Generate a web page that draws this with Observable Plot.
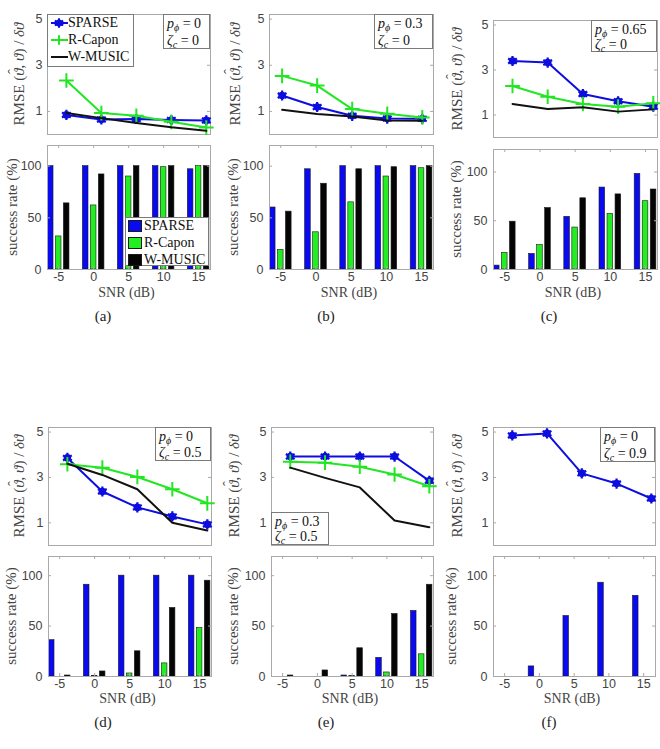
<!DOCTYPE html>
<html><head><meta charset="utf-8">
<script src="https://cdn.jsdelivr.net/npm/d3@7"></script>
<script src="https://cdn.jsdelivr.net/npm/@observablehq/plot@0.6"></script>
<style>
body{margin:0;background:#fff;}
#fig{position:relative;width:660px;height:749px;overflow:hidden;font-family:"Liberation Serif","DejaVu Serif",serif;color:#222;}
.lab{position:absolute;white-space:nowrap;font-size:14px;transform:translate(-50%,-50%);color:#444;}
.ylab{position:absolute;white-space:nowrap;font-size:15px;transform:translate(-50%,-50%) rotate(-90deg);color:#444;}
.box{position:absolute;box-sizing:border-box;border:1px solid #7a7a7a;background:#fff;font-size:14px;color:#111;}
.row{position:absolute;white-space:nowrap;transform:translateY(-50%);}
sub{font-size:10px;vertical-align:-3px;line-height:0;}
.hat{position:relative;display:inline-block;}
.hatc{position:absolute;left:0.12em;top:-0.42em;font-style:normal;}
</style></head><body><div id="fig"></div>
<script>
// ---------------- data ----------------
const snr = [-5, 0, 5, 10, 15];
const methods = ["SPARSE", "R-Capon", "W-MUSIC"];
const panelLetters = ["(a)", "(b)", "(c)", "(d)", "(e)", "(f)"];
const pPhi = ["0", "0.3", "0.65", "0", "0.3", "0"];
const zetaC = ["0", "0", "0", "0.5", "0.5", "0.9"];
const yTicksTop = [1, 3, 5];
const yTicksBottom = [0, 50, 100];
const xTicks = [-5, 0, 5, 10, 15];

// RMSE (top plots)
const rmseA_sparse = [0.85, 0.65, 0.67, 0.63, 0.61];
const rmseA_capon  = [2.34, 0.93, 0.81, 0.55, 0.30];
const rmseA_music  = [0.93, 0.71, 0.50, 0.31, 0.16];
const rmseB_sparse = [1.69, 1.19, 0.81, 0.69, 0.68];
const rmseB_capon  = [2.54, 2.12, 1.10, 0.90, 0.74];
const rmseB_music  = [1.07, 0.89, 0.78, 0.61, 0.60];
const rmseC_sparse = [3.40, 3.33, 1.93, 1.61, 1.37];
const rmseC_capon  = [2.29, 1.81, 1.49, 1.37, 1.52];
const rmseC_music  = [1.49, 1.27, 1.34, 1.15, 1.25];
const rmseD_sparse = [3.86, 2.38, 1.68, 1.28, 0.93];
const rmseD_capon  = [3.58, 3.43, 3.02, 2.48, 1.86];
const rmseD_music  = [3.60, 3.11, 2.48, 1.00, 0.66];
const rmseE_sparse = [3.92, 3.92, 3.92, 3.92, 2.85];
const rmseE_capon  = [3.69, 3.65, 3.47, 3.13, 2.61];
const rmseE_music  = [3.43, 2.98, 2.56, 1.10, 0.80];
const rmseF_sparse = [4.85, 4.94, 3.18, 2.73, 2.07];

// success rate (%) (bottom plots)
const rateA_sparse = [100, 100, 100, 100, 97];
const rateA_capon  = [32, 62, 90, 99, 100];
const rateA_music  = [64, 92, 100, 100, 100];
const rateB_sparse = [60, 97, 100, 100, 100];
const rateB_capon  = [19, 36, 65, 90, 98];
const rateB_music  = [56, 83, 97, 99, 100];
const rateC_sparse = [4, 16, 54, 84, 98];
const rateC_capon  = [17, 25, 43, 57, 70];
const rateC_music  = [49, 63, 73, 77, 82];
const rateD_sparse = [36, 91, 100, 100, 100];
const rateD_capon  = [0, 0.5, 3, 13, 48];
const rateD_music  = [1, 5, 25, 68, 95];
const rateE_sparse = [0, 0, 1, 18.5, 65];
const rateE_capon  = [0, 0, 0.5, 4, 22];
const rateE_music  = [1, 6, 28, 62, 91];
const rateF_sparse = [0, 10, 60, 93, 80];
const rateF_capon  = [0, 0, 0, 0, 0];
const rateF_music  = [0, 0, 0, 0, 0];

// ---------------- layout ----------------
const SANS = "'Liberation Sans', Arial, Helvetica, sans-serif";
const FRAME = "#a9a9a9";
const LINE = {"SPARSE": "#0d0de0", "R-Capon": "#22e622", "W-MUSIC": "#111111"};
const BAR = {"SPARSE": "#0a0af2", "R-Capon": "#22ee22", "W-MUSIC": "#050505"};
const barOff = {"SPARSE": -1.14, "R-Capon": 0, "W-MUSIC": 1.14};
const barW = 0.8;
const topX = [-7.7, 15.6];
const topXb = [-6.8, 16.6];
const botX = [-6.6, 16.7];

const panels = [
  {L: 47, R: 210, tT: 14, tB: 134, bT: 145, bB: 269, bMax: 120, ry: 19, sy: 12, lx: 103, rowSnr: 293, rowLet: 316, tx: topX,
   rmse: {"SPARSE": rmseA_sparse, "R-Capon": rmseA_capon, "W-MUSIC": rmseA_music},
   rate: {"SPARSE": rateA_sparse, "R-Capon": rateA_capon, "W-MUSIC": rateA_music},
   box: [163, 14, 210, 49]},
  {L: 269, R: 433, tT: 14, tB: 134, bT: 145, bB: 269, bMax: 120, ry: 235, sy: 233, lx: 326, rowSnr: 293, rowLet: 316, tx: topXb,
   rmse: {"SPARSE": rmseB_sparse, "R-Capon": rmseB_capon, "W-MUSIC": rmseB_music},
   rate: {"SPARSE": rateB_sparse, "R-Capon": rateB_capon, "W-MUSIC": rateB_music},
   box: [374, 14, 433, 49]},
  {L: 493, R: 657, tT: 20, tB: 137, bT: 149, bB: 269, bMax: 123, ry: 457, sy: 456, lx: 549, rowSnr: 293, rowLet: 316, tx: topX,
   rmse: {"SPARSE": rmseC_sparse, "R-Capon": rmseC_capon, "W-MUSIC": rmseC_music},
   rate: {"SPARSE": rateC_sparse, "R-Capon": rateC_capon, "W-MUSIC": rateC_music},
   box: [591, 20, 657, 52]},
  {L: 48, R: 211, tT: 427, tB: 545, bT: 556, bB: 676, bMax: 119, ry: 19, sy: 11, lx: 103, rowSnr: 699, rowLet: 722, tx: topX,
   rmse: {"SPARSE": rmseD_sparse, "R-Capon": rmseD_capon, "W-MUSIC": rmseD_music},
   rate: {"SPARSE": rateD_sparse, "R-Capon": rateD_capon, "W-MUSIC": rateD_music},
   box: [155, 427, 211, 461]},
  {L: 271, R: 433, tT: 427, tB: 545, bT: 556, bB: 676, bMax: 119, ry: 234, sy: 233, lx: 326, rowSnr: 699, rowLet: 722, tx: topX,
   rmse: {"SPARSE": rmseE_sparse, "R-Capon": rmseE_capon, "W-MUSIC": rmseE_music},
   rate: {"SPARSE": rateE_sparse, "R-Capon": rateE_capon, "W-MUSIC": rateE_music},
   box: [271, 512, 329, 545]},
  {L: 493, R: 655, tT: 427, tB: 545, bT: 556, bB: 676, bMax: 119, ry: 457, sy: 451, lx: 549, rowSnr: 699, rowLet: 722, tx: topX,
   rmse: {"SPARSE": rmseF_sparse},
   rate: {"SPARSE": rateF_sparse, "R-Capon": rateF_capon, "W-MUSIC": rateF_music},
   box: [600, 427, 655, 462]},
];

const fig = document.getElementById("fig");
const M = {l: 40, r: 8, t: 8, b: 24};
const baseStyle = {background: "transparent", overflow: "visible", color: "#444", fontSize: "12.5px", fontFamily: SANS};

function place(svg, left, top) {
  svg.style.position = "absolute";
  svg.style.left = left + "px";
  svg.style.top = top + "px";
  fig.appendChild(svg);
}

function topPlot(p) {
  const w = p.R - p.L, h = p.tB - p.tT;
  const marks = [
    Plot.tickY(yTicksTop, {y: d => d, insetRight: w - 3, stroke: FRAME}),
    Plot.tickY(yTicksTop, {y: d => d, insetLeft: w - 3, stroke: FRAME}),
    Plot.frame({stroke: FRAME}),
    Plot.axisY(yTicksTop, {tickSize: 0, tickPadding: 5, tickFormat: d => String(d), label: null})
  ];
  for (const k of methods) {
    if (!p.rmse[k]) continue;
    const rows = snr.map((s, i) => ({snr: s, v: p.rmse[k][i]}));
    marks.push(Plot.line(rows, {x: "snr", y: "v", stroke: LINE[k], strokeWidth: 2}));
    if (k === "SPARSE") {
      marks.push(Plot.dot(rows, {x: "snr", y: "v", r: 3.8, fill: LINE[k]}));
      marks.push(Plot.dot(rows, {x: "snr", y: "v", symbol: "asterisk", r: 4.8, stroke: LINE[k], strokeWidth: 2.2}));
    }
    if (k === "R-Capon") {
      marks.push(Plot.dot(rows, {x: "snr", y: "v", symbol: "plus", r: 4.8, stroke: LINE[k], strokeWidth: 2}));
    }
  }
  const svg = Plot.plot({
    width: w + M.l + M.r, height: h + M.t + 8,
    marginLeft: M.l, marginRight: M.r, marginTop: M.t, marginBottom: 8,
    x: {domain: p.tx, axis: null}, y: {domain: [0, 5.2]},
    style: baseStyle, marks
  });
  place(svg, p.L - M.l, p.tT - M.t);
}

function bottomPlot(p) {
  const w = p.R - p.L, h = p.bB - p.bT;
  const marks = [];
  for (const k of methods) {
    const rows = snr.map((s, i) => ({snr: s, v: p.rate[k][i]})).filter(d => d.v > 0);
    marks.push(Plot.rect(rows, {
      x1: d => d.snr + barOff[k] - barW / 2, x2: d => d.snr + barOff[k] + barW / 2,
      y1: d => 0, y2: "v", fill: BAR[k], stroke: "#1a1a1a", strokeWidth: 0.6
    }));
  }
  marks.push(
    Plot.tickX(xTicks, {x: d => d, insetTop: h - 3, stroke: FRAME}),
    Plot.tickX(xTicks, {x: d => d, insetBottom: h - 3, stroke: FRAME}),
    Plot.tickY(yTicksBottom, {y: d => d, insetRight: w - 3, stroke: FRAME}),
    Plot.tickY(yTicksBottom, {y: d => d, insetLeft: w - 3, stroke: FRAME}),
    Plot.frame({stroke: FRAME}),
    Plot.axisY(yTicksBottom, {tickSize: 0, tickPadding: 6, tickFormat: d => String(d), label: null}),
    Plot.axisX(xTicks, {tickSize: 0, tickPadding: 3, tickFormat: d => String(d), label: null})
  );
  const svg = Plot.plot({
    width: w + M.l + M.r, height: h + M.t + M.b,
    marginLeft: M.l, marginRight: M.r, marginTop: M.t, marginBottom: M.b,
    x: {domain: botX}, y: {domain: [0, p.bMax]},
    style: baseStyle, marks
  });
  place(svg, p.L - M.l, p.bT - M.t);
}

function addDiv(cls, html, css) {
  const d = document.createElement("div");
  d.className = cls;
  d.innerHTML = html;
  Object.assign(d.style, css);
  fig.appendChild(d);
  return d;
}

const rmseLabel = 'RMSE (<span class="hat"><i>ϑ</i><span class="hatc">ˆ</span></span>, <i>ϑ</i>) / <i>δϑ</i>';
panels.forEach((p, i) => {
  topPlot(p);
  bottomPlot(p);
  addDiv("ylab", rmseLabel, {left: p.ry + "px", top: (p.tT + p.tB) / 2 + "px"});
  addDiv("ylab", "success rate (%)", {left: p.sy + "px", top: (p.bT + p.bB) / 2 + "px"});
  addDiv("lab", "SNR (dB)", {left: ((p.L + p.R) / 2 - 2) + "px", top: p.rowSnr + "px"});
  addDiv("lab", panelLetters[i], {left: p.lx + "px", top: p.rowLet + "px", color: "#222", fontSize: "15px"});
  const [x1, y1, x2, y2] = p.box;
  const bx = addDiv("box", "", {left: x1 + "px", top: y1 + "px", width: (x2 - x1) + "px", height: (y2 - y1) + "px"});
  bx.innerHTML =
    `<div class="row" style="left:3px;top:${(y2 - y1) * 0.27}px"><i>p</i><sub><i>ϕ</i></sub> = ${pPhi[i]}</div>` +
    `<div class="row" style="left:3px;top:${(y2 - y1) * 0.74}px"><i>ζ</i><sub><i>c</i></sub> = ${zetaC[i]}</div>`;
});

// legend for lines (panel a top)
const lg1 = addDiv("box", "", {left: "47px", top: "14px", width: "87px", height: "53px"});
const lineRows = [8, 25, 42];
lg1.innerHTML = methods.map((k, j) => {
  let marker = "";
  if (k === "SPARSE") marker = `<circle cx="9" cy="6" r="3.6" fill="${LINE[k]}"/><path d="M9,1.2V10.8M4.8,3.6L13.2,8.4M4.8,8.4L13.2,3.6" stroke="${LINE[k]}" stroke-width="2"/>`;
  if (k === "R-Capon") marker = `<path d="M9,1.2V10.8M4.2,6H13.8" stroke="${LINE[k]}" stroke-width="2"/>`;
  return `<svg style="position:absolute;left:2px;top:${lineRows[j] - 6}px" width="19" height="12"><line x1="1" y1="6" x2="18" y2="6" stroke="${LINE[k]}" stroke-width="2"/>${marker}</svg>` +
         `<div class="row" style="left:20px;top:${lineRows[j]}px">${k}</div>`;
}).join("");

// legend for bars (panel a bottom)
const lg2 = addDiv("box", "", {left: "125px", top: "217px", width: "84px", height: "49px"});
const barRows = [8, 25, 42];
lg2.innerHTML = methods.map((k, j) =>
  `<div style="position:absolute;left:2px;top:${barRows[j] - 6}px;width:14px;height:12px;background:${BAR[k]};box-sizing:border-box;border:0.6px solid #1a1a1a"></div>` +
  `<div class="row" style="left:18px;top:${barRows[j]}px">${k}</div>`
).join("");
</script></body></html>
